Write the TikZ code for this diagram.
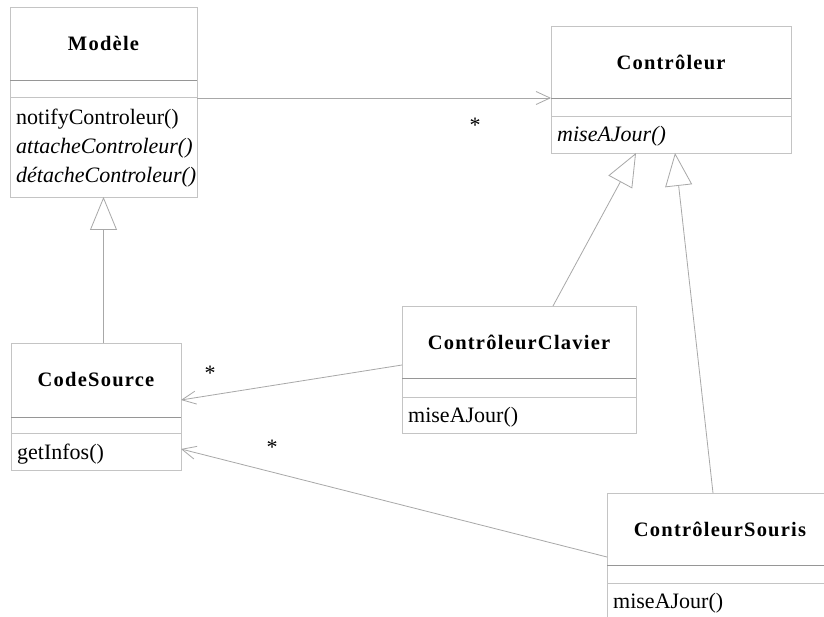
\documentclass[tikz,border=0pt]{standalone}
\usepackage{fontspec}
\setmainfont{Liberation Serif}
\usetikzlibrary{calc,arrows.meta}
\definecolor{boxc}{RGB}{196,196,196}
\definecolor{divc}{RGB}{150,150,150}
\definecolor{linec}{RGB}{168,168,168}
\begin{document}
\begin{tikzpicture}[x=1pt,y=-1pt,
  classbox/.style={draw=boxc, line width=0.9pt, rectangle, inner sep=0pt, outer sep=0pt, anchor=north west},
  title/.style={font=\fontsize{20.5}{24}\selectfont\bfseries\addfontfeature{LetterSpace=6}, inner sep=0pt},
  meth/.style={font=\fontsize{22}{28}\selectfont, anchor=base west, inner sep=0pt},
  mult/.style={font=\fontsize{22}{28}\selectfont, anchor=base, inner sep=0pt},
  assoc/.style={draw=linec, line width=0.8pt, -{Straight Barb[length=14pt,width=13pt,line width=0.8pt]}},
  gener/.style={draw=linec, line width=0.8pt, -{Triangle[open,length=33pt,width=27pt,line width=0.8pt,fill=white]}}
]
\useasboundingbox (0,0) rectangle (824,617);
\clip (0,0) rectangle (824,617);
\fill[white] (0,0) rectangle (824,617);

% Modele
\node[classbox, minimum width=187pt, minimum height=190pt] (mod) at (10,7) {};
\draw[divc, line width=0.9pt] (10,80) -- (197,80);
\draw[boxc, line width=0.9pt] (10,97) -- (197,97);
\node[title] (modt) at (103.5,43.5) {Modèle};
\node[meth] (modm1) at (16,125) {notifyControleur()};
\node[meth] (modm2) at (16,154) {\itshape attacheControleur()};
\node[meth] (modm3) at (16,183) {\itshape détacheControleur()};

% Controleur
\node[classbox, minimum width=240pt, minimum height=127pt] (ctl) at (551,26) {};
\draw[divc, line width=0.9pt] (551,98) -- (791,98);
\draw[boxc, line width=0.9pt] (551,116) -- (791,116);
\node[title] (ctlt) at (671,62) {Contrôleur};
\node[meth] (ctlm) at (557,142) {\itshape miseAJour()};

% CodeSource
\node[classbox, minimum width=170pt, minimum height=127pt] (cs) at (11,343) {};
\draw[divc, line width=0.9pt] (11,417) -- (181,417);
\draw[boxc, line width=0.9pt] (11,433) -- (181,433);
\node[title] (cst) at (96,380) {CodeSource};
\node[meth] (csm) at (17,459) {getInfos()};

% ControleurClavier
\node[classbox, minimum width=234pt, minimum height=127pt] (clav) at (402,306) {};
\draw[divc, line width=0.9pt] (402,378) -- (636,378);
\draw[boxc, line width=0.9pt] (402,397) -- (636,397);
\node[title] (clavt) at (519,342) {ContrôleurClavier};
\node[meth] (clavm) at (408,422) {miseAJour()};

% ControleurSouris
\node[classbox, minimum width=226pt, minimum height=150pt] (sour) at (607,493) {};
\draw[divc, line width=0.9pt] (607,565) -- (833,565);
\draw[boxc, line width=0.9pt] (607,583) -- (833,583);
\node[title] (sourt) at (720,529) {ContrôleurSouris};
\node[meth] (sourm) at (613,608) {miseAJour()};

% connectors
\draw[assoc] ($(mod.north east)+(0,91)$) -- ($(ctl.north west)+(0,72)$);
\draw[gener] (mod.south |- cs.north) -- (mod.south);
\draw[gener] ($(clav.north west)+(151,0)$) -- ($(ctl.south west)+(85,0)$);
\draw[gener] ($(sour.north west)+(106,0)$) -- ($(ctl.south west)+(124,0)$);
\draw[assoc] ($(clav.north west)+(0,59)$) -- ($(cs.north east)+(0,57)$);
\draw[assoc] ($(sour.north west)+(0,64)$) -- ($(cs.north east)+(0,106)$);

% multiplicities
\node[mult] (m1) at (475,133) {*};
\node[mult] (m2) at (210,380) {*};
\node[mult] (m3) at (272,454) {*};
\end{tikzpicture}
\end{document}
